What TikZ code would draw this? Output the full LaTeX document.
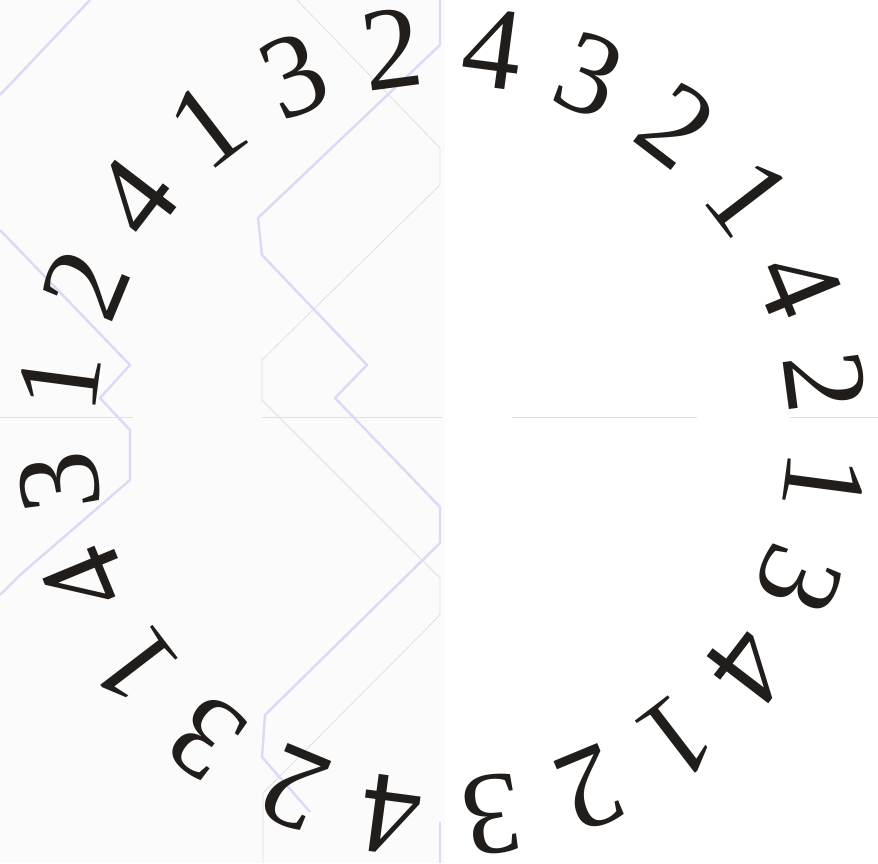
\documentclass[tikz,border=0pt]{standalone}
\usepackage{fontspec}
\setmainfont{Liberation Serif}
\definecolor{ink}{RGB}{33,29,27}
\definecolor{wire}{RGB}{218,218,246}
\definecolor{rule}{RGB}{224,224,224}

\begin{document}
\begin{tikzpicture}[x=1pt, y=1pt,
     dig/.style={text=ink, inner sep=0pt, font=\fontsize{118}{118}\selectfont},
     bluewire/.style={draw=wire, line width=2.4pt, line join=round},
     greywire/.style={draw=rule, line width=0.8pt}]
   \useasboundingbox (-442,-431) rectangle (436,432);
   % faint page behind the ring (pixel coordinates, y downwards)
   \begin{scope}[shift={(-442,432)}, yscale=-1]
     \fill[black!1.5] (0,0) rectangle (445,863);
     \draw[greywire] (0,417) -- (133,417) (262,417) -- (442,417) (512,417) -- (697,417) (790,417) -- (878,417);
     \draw[greywire] (297,0) -- (440,148) -- (440,185) -- (262,360) -- (262,400) -- (440,578) -- (440,615) -- (263,793) -- (263,863);
     \draw[bluewire] (440,0) -- (440,45) -- (258,218) -- (262,255) -- (367,365) -- (335,398) -- (440,507) -- (440,543) -- (265,715) -- (262,757) -- (310,812);
     \draw[bluewire] (440,822) -- (440,863);
     \draw[bluewire] (90,0) -- (0,95);
     \draw[bluewire] (0,230) -- (130,365) -- (100,398) -- (130,430) -- (130,480) -- (20,575) -- (0,595);
   \end{scope}
   % ring of digits, read clockwise from the top
   \node[dig, rotate=-7.5]   (d1)  at (82.5:386)   {4};
   \node[dig, rotate=-22.5]  (d2)  at (67.5:386)   {3};
   \node[dig, rotate=-37.5]  (d3)  at (52.5:386)   {2};
   \node[dig, rotate=-52.5]  (d4)  at (37.5:386)   {1};
   \node[dig, rotate=-67.5]  (d5)  at (22.5:386)   {4};
   \node[dig, rotate=-82.5]  (d6)  at (7.5:386)    {2};
   \node[dig, rotate=-97.5]  (d7)  at (-7.5:386)   {1};
   \node[dig, rotate=-112.5] (d8)  at (-22.5:386)  {3};
   \node[dig, rotate=-127.5] (d9)  at (-37.5:386)  {4};
   \node[dig, rotate=-142.5] (d10) at (-52.5:386)  {1};
   \node[dig, rotate=-157.5] (d11) at (-67.5:386)  {2};
   \node[dig, rotate=-172.5] (d12) at (-82.5:386)  {3};
   \node[dig, rotate=172.5]  (d13) at (-97.5:386)  {4};
   \node[dig, rotate=157.5]  (d14) at (-112.5:386) {2};
   \node[dig, rotate=142.5]  (d15) at (-127.5:386) {3};
   \node[dig, rotate=127.5]  (d16) at (-142.5:386) {1};
   \node[dig, rotate=112.5]  (d17) at (-157.5:386) {4};
   \node[dig, rotate=97.5]   (d18) at (-172.5:386) {3};
   \node[dig, rotate=82.5]   (d19) at (172.5:386)  {1};
   \node[dig, rotate=67.5]   (d20) at (157.5:386)  {2};
   \node[dig, rotate=52.5]   (d21) at (142.5:386)  {4};
   \node[dig, rotate=37.5]   (d22) at (127.5:386)  {1};
   \node[dig, rotate=22.5]   (d23) at (112.5:386)  {3};
   \node[dig, rotate=7.5]    (d24) at (97.5:386)   {2};
\end{tikzpicture}
\end{document}
